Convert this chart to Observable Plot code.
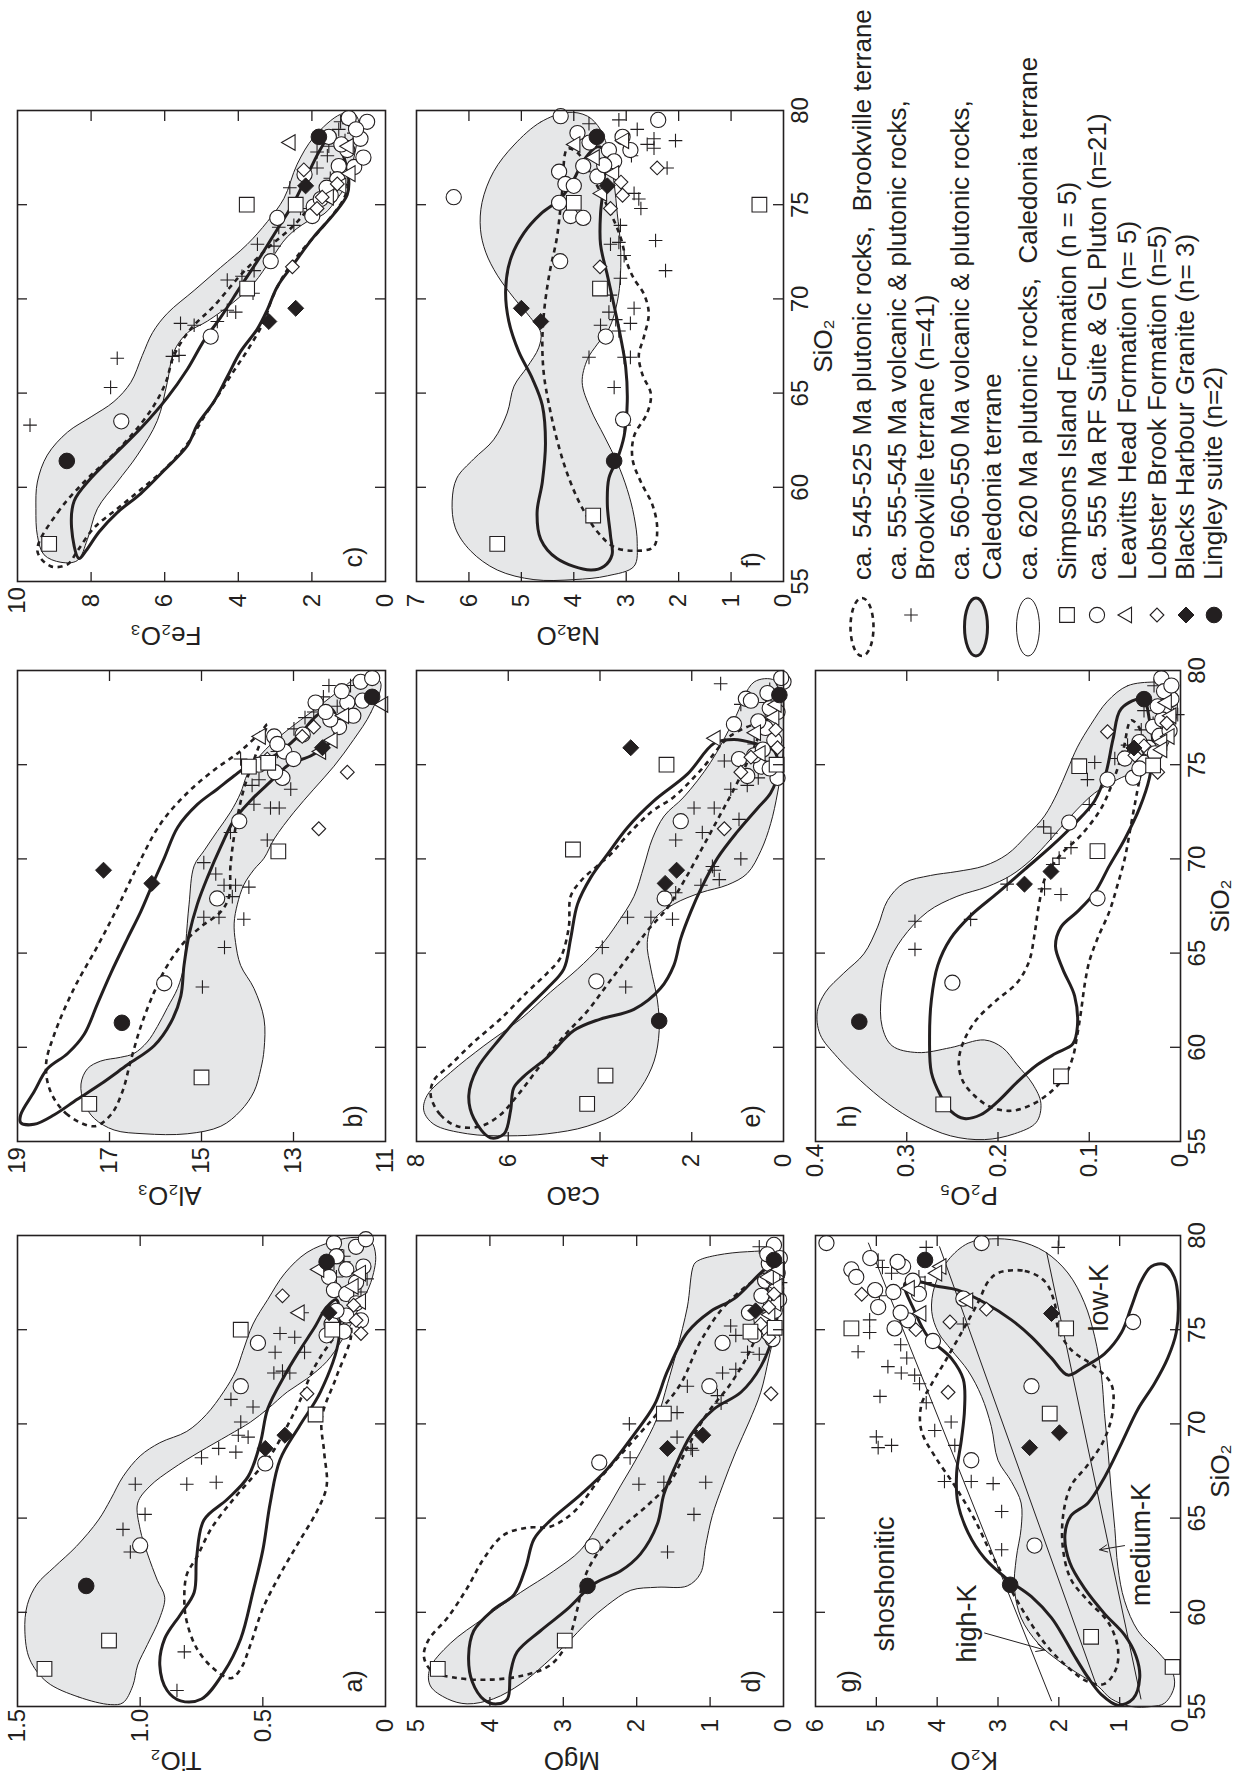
<!DOCTYPE html>
<html><head><meta charset="utf-8">
<script src="https://cdn.jsdelivr.net/npm/d3@7"></script>
<script src="https://cdn.jsdelivr.net/npm/@observablehq/plot@0.6"></script>
<style>
html,body{margin:0;padding:0;background:#fff;width:1245px;height:1788px;overflow:hidden;}
#fig{position:absolute;left:0;top:0;width:1788px;height:1245px;transform-origin:0 0;transform:translate(0px,1788px) rotate(-90deg);}
.panel{position:absolute;}
.panel svg{overflow:visible;}
</style></head><body><div id="fig"></div>
<script>
// ---------------- DATA (x = SiO2 wt%, y = oxide wt%) ----------------
const siTicks = [55,60,65,70,75,80];

// a) TiO2
const a_gray = [[55.1,1.12],[55.5,1.25],[56.3,1.38],[57.5,1.45],[59.0,1.47],[60.4,1.46],[61.5,1.42],[62.4,1.35],[63.5,1.26],[64.9,1.17],[66.0,1.12],[67.2,1.07],[68.3,1.0],[69.0,0.92],[69.6,0.81],[70.5,0.73],[71.7,0.66],[72.8,0.61],[73.9,0.58],[75.3,0.54],[76.6,0.48],[78.0,0.41],[79.1,0.32],[79.7,0.21],[79.9,0.12],[79.7,0.06],[78.9,0.04],[77.5,0.06],[76.4,0.10],[75.3,0.14],[74.4,0.18],[73.3,0.24],[72.4,0.32],[71.7,0.40],[70.8,0.48],[70.1,0.55],[69.4,0.64],[68.5,0.76],[67.6,0.87],[66.7,0.96],[65.8,1.01],[64.4,1.0],[63.1,0.97],[61.7,0.93],[60.8,0.90],[59.7,0.92],[58.3,0.97],[57.2,1.01],[56.1,1.03],[55.2,1.07]];
const a_solid = [[74.5,0.19],[71.7,0.265],[69.9,0.35],[68.1,0.43],[65.8,0.47],[63.3,0.50],[61.1,0.54],[58.6,0.59],[56.8,0.66],[55.4,0.75],[55.3,0.835],[55.85,0.89],[57.2,0.92],[58.6,0.90],[59.9,0.835],[61.05,0.78],[62.9,0.77],[64.9,0.74],[66.0,0.645],[67.2,0.56],[69.0,0.51],[70.8,0.48],[72.6,0.41],[73.9,0.35],[75.1,0.29],[76.2,0.24],[76.6,0.2]];
const a_dash = [[75.5,0.15],[74.7,0.14],[72.5,0.2],[70.3,0.26],[68.5,0.25],[66.7,0.24],[65.35,0.28],[63.8,0.35],[62.0,0.43],[60.2,0.50],[58.3,0.55],[57.0,0.59],[56.5,0.63],[57.0,0.70],[58.1,0.77],[59.5,0.81],[60.6,0.82],[62.0,0.81],[62.9,0.77],[64.45,0.71],[66.0,0.62],[67.2,0.54],[68.3,0.47],[69.9,0.40],[71.2,0.35],[73.0,0.29],[74.4,0.22]];
const a_plus = [[55.85,0.85],[57.9,0.82],[63.2,1.04],[64.4,1.07],[65.2,0.98],[66.8,1.02],[66.8,0.81],[66.9,0.69],[68.2,0.75],[68.7,0.68],[68.5,0.61],[69.3,0.56],[69.4,0.6],[70.1,0.59],[71.3,0.63],[70.9,0.54],[72.7,0.455],[72.8,0.42],[72.7,0.39],[73.8,0.45],[73.8,0.33],[74.8,0.43],[74.6,0.37],[75.9,0.34],[79.25,0.2],[78.5,0.21],[78.6,0.17],[78.0,0.25],[77.8,0.2],[76.9,0.18],[77.7,0.075],[78.9,0.17],[77.0,0.1]];
const a_circle = [[63.55,1.0],[74.3,0.52],[72.0,0.59],[67.9,0.49],[74.7,0.24],[79.6,0.21],[79.4,0.12],[78.2,0.16],[77.8,0.23],[78.35,0.09],[77.1,0.21],[76.9,0.16],[75.3,0.22],[75.75,0.16],[76.4,0.12],[77.5,0.12],[76.0,0.2],[74.9,0.17],[78.9,0.2],[79.8,0.08],[75.5,0.1]];
const a_triangle = [[75.9,0.35],[78.2,0.27],[78.0,0.10],[76.5,0.10],[77.3,0.13]];
const a_diamond = [[76.8,0.42],[71.6,0.32],[75.5,0.12],[74.8,0.10],[76.3,0.13]];
const a_square = [[57.0,1.39],[58.5,1.127],[75.0,0.59],[70.5,0.285],[75.0,0.217]];
const a_fdiamond = [[68.7,0.49],[69.4,0.41],[75.9,0.23]];
const a_fcircle = [[61.4,1.22],[78.6,0.24]];

// b) Al2O3
const b_gray = [[79.39,11.11],[77.76,11.32],[76.34,11.69],[74.92,12.12],[73.7,12.56],[72.48,12.99],[71.06,13.42],[70.04,13.64],[69.43,13.86],[68.62,14.08],[67.6,14.22],[66.59,14.29],[65.57,14.26],[64.35,14.15],[63.13,13.86],[61.5,13.64],[59.88,13.64],[58.86,13.71],[57.64,13.86],[56.63,14.15],[55.81,14.58],[55.41,15.31],[55.41,16.25],[55.61,16.9],[56.22,17.33],[57.03,17.55],[58.05,17.62],[58.86,17.48],[59.27,17.19],[59.47,16.76],[59.67,16.47],[60.28,16.18],[61.1,15.96],[62.11,15.74],[63.13,15.52],[64.35,15.38],[65.57,15.34],[67.6,15.27],[69.63,15.16],[70.45,14.94],[71.46,14.66],[72.48,14.37],[73.5,14.15],[74.51,14.0],[75.53,13.71],[76.54,13.28],[77.36,12.85],[78.17,12.41],[78.98,11.98],[79.7,11.54]];
const b_solid = [[56.42,18.93],[57.64,18.64],[58.86,18.35],[59.67,17.91],[60.69,17.55],[62.32,17.26],[63.94,16.97],[65.77,16.61],[67.2,16.32],[68.62,16.07],[70.04,15.81],[71.67,15.52],[72.89,15.09],[73.7,14.66],[74.41,14.29],[74.92,14.0],[75.5,13.4],[76.5,12.9],[77.6,12.5],[78.0,12.2],[77.3,12.05],[76.2,12.2],[75.5,12.6],[75.0,13.1],[74.1,13.5],[73.1,13.93],[72.07,14.29],[70.65,14.58],[69.02,14.87],[67.6,15.09],[65.98,15.27],[64.35,15.38],[62.72,15.45],[61.3,15.67],[60.08,16.03],[59.07,16.61],[58.05,17.19],[57.24,17.7],[56.42,18.2],[55.91,18.64],[56.0,18.93]];
const b_dash = [[55.81,17.33],[56.42,17.91],[57.64,18.28],[59.07,18.38],[60.69,18.2],[63.13,17.77],[65.37,17.26],[67.4,16.83],[69.63,16.39],[71.87,15.89],[73.5,15.31],[74.71,14.73],[75.73,14.15],[76.75,13.71],[77.15,13.57],[75.73,13.79],[73.7,14.08],[71.67,14.26],[69.63,14.37],[68.0,14.4],[67.2,14.58],[66.38,15.02],[65.57,15.38],[64.35,15.74],[62.93,16.03],[61.1,16.32],[59.27,16.54],[57.64,16.72],[56.42,16.97]];
const b_plus = [[63.2,14.98],[65.3,14.5],[66.9,14.95],[66.9,14.62],[66.8,14.08],[68.0,14.33],[69.2,14.69],[69.8,14.95],[68.6,14.51],[68.6,14.26],[68.5,13.97],[71.4,14.37],[72.9,13.86],[72.7,13.5],[72.7,13.31],[71.0,13.57],[73.9,13.9],[73.7,13.06],[75.7,13.35],[76.9,12.99],[77.8,12.56],[78.1,12.45],[79.2,12.23],[79.2,11.76],[78.1,12.05],[75.3,14.15],[74.2,13.75],[77.5,12.75],[78.6,12.35]];
const b_circle = [[63.4,15.81],[67.9,14.66],[72.0,14.18],[74.3,13.24],[76.5,13.42],[75.7,13.2],[77.0,12.01],[78.3,12.52],[78.3,11.83],[79.4,11.54],[79.6,11.29],[78.4,11.5],[77.4,12.2],[76.6,12.8],[75.3,13.0],[77.8,12.3],[76.1,13.35],[78.9,11.95],[77.6,11.7],[75.0,13.75],[74.6,13.4]];
const b_triangle = [[76.5,13.71],[78.2,11.05],[75.7,12.4],[76.3,12.15],[77.6,11.9]];
const b_diamond = [[74.6,11.83],[71.6,12.45],[75.3,13.57],[76.5,12.81],[77.0,12.56]];
const b_square = [[57.0,17.44],[58.4,15.0],[70.4,13.33],[74.9,13.97],[75.1,13.55]];
const b_fdiamond = [[69.4,17.13],[68.7,16.08],[75.9,12.37]];
const b_fcircle = [[61.3,16.73],[78.6,11.29]];

// c) Fe2O3
const c_gray = [[79.8,1.22],[78.58,1.95],[77.15,2.4],[75.33,2.76],[74.1,3.21],[72.89,3.76],[71.67,4.48],[70.45,5.2],[69.23,5.93],[68.21,6.33],[66.99,6.61],[65.57,6.92],[64.55,7.38],[63.74,8.0],[62.93,8.64],[61.71,9.19],[60.28,9.46],[58.86,9.5],[57.44,9.46],[56.42,9.28],[56.02,8.82],[56.12,8.37],[57.24,8.1],[58.86,7.83],[60.28,7.29],[61.71,6.74],[63.54,6.2],[65.57,5.93],[67.2,5.75],[68.21,5.38],[68.82,4.84],[69.84,4.12],[70.85,3.57],[72.07,3.12],[73.29,2.67],[74.1,2.13],[74.51,1.67],[75.33,1.31],[76.14,1.04],[77.15,0.9],[78.37,0.77],[79.39,0.72],[79.84,0.86]];
const c_solid = [[56.22,8.33],[57.85,8.53],[59.27,8.46],[60.49,8.0],[61.71,7.38],[63.13,6.65],[64.76,5.93],[66.28,5.38],[67.8,4.93],[69.02,4.48],[70.65,3.94],[72.28,3.39],[73.7,2.94],[75.12,2.49],[76.54,2.13],[77.97,1.76],[78.68,1.49],[77.97,1.22],[76.34,1.0],[75.53,1.04],[74.51,1.4],[73.29,1.95],[71.87,2.49],[70.65,2.94],[69.43,3.21],[68.41,3.48],[67.2,3.94],[65.87,4.3],[64.55,4.66],[63.33,5.11],[62.22,5.38],[60.89,6.02],[59.67,6.65],[58.66,7.29],[57.64,7.78],[56.63,8.14]];
const c_dash = [[56.63,9.46],[58.66,8.91],[60.28,8.19],[61.61,7.47],[62.93,6.83],[64.35,6.29],[65.57,5.97],[66.99,5.75],[68.41,5.29],[69.63,4.66],[71.26,3.94],[72.68,3.21],[73.9,2.49],[74.92,2.04],[75.93,1.58],[76.54,1.31],[76.14,1.04],[75.33,1.13],[73.7,1.76],[72.48,2.31],[71.26,2.76],[70.04,3.08],[68.82,3.3],[67.4,3.71],[66.18,4.12],[64.96,4.52],[63.74,4.93],[62.32,5.38],[61.1,5.93],[59.88,6.65],[58.86,7.29],[57.85,7.92],[56.63,8.37],[55.91,8.64],[55.81,9.1]];
const c_plus = [[63.3,9.66],[66.85,7.29],[65.3,7.47],[66.95,5.79],[67.0,5.61],[68.7,5.57],[68.6,5.2],[68.8,4.57],[69.4,4.3],[69.3,4.07],[71.0,4.3],[71.5,3.57],[72.8,3.03],[72.9,3.48],[73.8,2.9],[73.9,2.49],[74.8,2.31],[76.95,1.86],[77.8,1.86],[78.1,1.54],[79.0,1.27],[79.3,1.0],[79.4,1.22],[78.8,0.86],[77.6,1.58],[71.2,3.9],[70.3,3.6],[75.9,2.6],[76.4,1.5],[78.4,1.1]];
const c_circle = [[63.5,7.18],[68.0,4.75],[72.0,3.12],[74.3,2.94],[79.6,1.0],[79.4,0.5],[78.6,1.54],[78.5,0.68],[77.9,1.04],[77.05,1.27],[77.0,0.85],[78.2,1.2],[74.9,1.95],[74.4,1.99],[75.3,1.76],[75.5,1.49],[76.35,1.31],[75.9,1.6],[76.6,2.2],[79.0,0.8],[77.5,0.6]];
const c_triangle = [[78.3,2.58],[78.1,1.0],[76.65,0.95],[75.4,1.54],[76.0,1.2]];
const c_diamond = [[76.85,2.22],[76.1,1.31],[75.4,1.72],[71.7,2.53],[74.8,1.86]];
const c_square = [[57.0,9.14],[75.0,3.77],[70.55,3.76],[75.0,2.44]];
const c_fdiamond = [[76.0,2.17],[68.8,3.17],[69.5,2.44]];
const c_fcircle = [[61.4,8.66],[78.6,1.81]];

// d) MgO
const d_gray = [[78.46,1.22],[76.2,1.31],[73.94,1.45],[72.13,1.58],[70.33,1.72],[68.52,1.95],[66.71,2.22],[64.9,2.49],[63.32,2.76],[62.19,3.13],[61.06,3.58],[59.7,4.08],[58.35,4.54],[56.99,4.82],[56.09,4.81],[55.41,4.58],[55.14,4.31],[55.41,3.95],[56.2,3.58],[57.22,3.26],[58.35,2.95],[59.48,2.67],[60.38,2.4],[61.17,2.08],[61.33,1.72],[61.4,1.31],[62.07,1.13],[63.54,1.06],[65.13,0.97],[66.71,0.83],[68.52,0.65],[70.1,0.47],[71.68,0.31],[73.49,0.2],[75.3,0.1],[77.1,0.05],[78.69,0.03],[79.1,0.13],[79.14,0.49],[78.96,0.9],[78.69,1.15]];
const d_solid = [[78.35,0.17],[76.65,0.67],[75.98,0.99],[74.85,1.31],[72.81,1.58],[71.0,1.76],[69.42,2.04],[67.61,2.4],[66.26,2.76],[64.9,3.17],[63.88,3.4],[62.41,3.51],[60.94,3.67],[60.15,3.95],[59.02,4.22],[57.67,4.29],[56.31,4.24],[55.36,4.08],[55.14,3.9],[55.41,3.76],[56.76,3.72],[57.89,3.63],[59.02,3.31],[60.15,2.95],[61.51,2.58],[62.19,2.22],[63.09,1.95],[64.67,1.72],[66.26,1.63],[67.61,1.49],[69.42,1.26],[70.78,0.95],[71.68,0.58],[73.04,0.31],[74.85,0.13],[76.65,0.06],[77.78,0.08]];
const d_dash = [[77.78,0.26],[76.43,0.76],[74.39,1.13],[72.13,1.4],[70.55,1.72],[68.97,2.08],[67.16,2.49],[65.35,2.85],[64.56,3.17],[64.49,3.49],[64.11,3.81],[62.87,4.08],[61.28,4.31],[59.7,4.58],[58.57,4.83],[57.67,4.9],[56.88,4.79],[56.54,4.49],[56.42,4.04],[56.65,3.54],[57.22,3.17],[58.35,2.95],[60.15,2.81],[61.74,2.72],[63.09,2.54],[64.45,2.22],[65.69,1.85],[66.93,1.54],[68.74,1.31],[70.55,1.04],[72.13,0.72],[73.94,0.45],[75.98,0.26]];
const d_plus = [[63.2,1.58],[65.2,1.22],[66.9,1.06],[66.9,1.63],[66.8,1.97],[68.2,2.09],[70.0,2.1],[69.3,1.45],[68.7,1.26],[68.6,1.24],[71.1,0.85],[72.0,1.31],[72.7,0.83],[72.9,0.65],[73.8,0.49],[73.7,0.33],[75.2,0.72],[74.7,0.65],[79.4,0.33],[78.6,0.15],[77.9,0.22],[76.5,0.25],[78.2,0.1],[77.5,0.04],[70.6,1.45],[71.5,0.9]];
const d_circle = [[67.95,2.51],[63.5,2.6],[72.0,1.01],[74.3,0.83],[75.9,0.47],[76.3,0.17],[79.5,0.13],[78.5,0.2],[77.6,0.25],[77.2,0.1],[78.0,0.08],[76.8,0.3],[75.5,0.3],[74.7,0.4],[78.8,0.05],[77.8,0.15],[76.0,0.12],[75.0,0.2],[79.0,0.22],[76.6,0.06],[74.5,0.15]];
const d_triangle = [[77.3,0.08],[77.8,0.2],[76.4,0.1],[75.8,0.18],[78.2,0.05]];
const d_diamond = [[71.6,0.17],[75.3,0.31],[74.6,0.2],[76.9,0.13],[76.2,0.2]];
const d_square = [[57.0,4.71],[58.5,2.98],[70.55,1.63],[74.9,0.45],[75.1,0.12]];
const d_fdiamond = [[68.7,1.58],[69.4,1.1],[76.0,0.38]];
const d_fcircle = [[61.4,2.67],[78.7,0.13]];

// e) CaO
const e_gray = [[79.39,0.64],[77.36,1.08],[75.12,1.59],[73.29,2.17],[72.28,2.6],[71.06,2.86],[69.63,3.04],[68.01,3.26],[66.59,3.62],[65.37,3.99],[64.15,4.49],[62.93,5.08],[61.5,5.73],[60.08,6.53],[58.66,7.26],[57.44,7.77],[56.63,7.84],[55.91,7.62],[55.41,6.89],[55.3,6.02],[55.41,5.15],[55.81,4.28],[56.63,3.55],[57.85,3.11],[59.27,2.82],[60.89,2.71],[62.52,2.75],[64.15,2.89],[65.57,2.97],[66.79,2.82],[67.6,2.39],[68.21,1.8],[68.62,1.22],[69.23,0.79],[70.45,0.49],[71.87,0.28],[73.5,0.13],[75.33,0.02],[77.15,0.0],[78.78,0.02],[79.49,0.2]];
const e_solid = [[76.14,1.51],[74.51,2.09],[73.09,2.82],[71.67,3.4],[70.24,3.84],[69.02,4.2],[67.6,4.49],[65.77,4.64],[64.15,4.79],[63.13,5.15],[61.91,5.66],[60.49,6.17],[58.86,6.68],[57.44,6.86],[56.22,6.75],[55.2,6.39],[55.41,6.09],[56.63,5.95],[57.85,5.88],[58.46,5.66],[59.47,5.15],[60.89,4.57],[61.5,3.99],[62.01,3.26],[63.13,2.68],[64.35,2.39],[65.77,2.24],[67.2,2.02],[68.41,1.8],[70.04,1.44],[71.46,1.0],[72.68,0.57],[73.5,0.28],[74.51,0.13],[75.73,0.2],[76.14,0.64],[76.34,1.08]];
const e_dash = [[57.44,7.69],[56.42,7.48],[55.81,7.11],[55.81,6.6],[56.42,6.17],[57.44,5.8],[59.07,5.29],[60.59,4.79],[61.91,4.28],[63.33,3.84],[64.76,3.4],[66.18,2.97],[67.4,2.53],[68.82,2.17],[70.45,1.8],[72.07,1.44],[73.7,1.08],[75.12,0.79],[76.34,0.57],[77.15,0.49],[76.54,1.15],[74.72,1.8],[73.29,2.39],[72.48,2.89],[71.26,3.4],[70.24,3.77],[69.63,4.06],[68.82,4.42],[68.01,4.64],[66.38,4.68],[64.76,4.86],[63.94,5.15],[62.93,5.59],[61.5,6.17],[60.28,6.75],[59.07,7.26],[58.25,7.62]];
const e_plus = [[79.3,1.37],[78.2,0.93],[78.3,0.39],[77.8,0.28],[76.1,0.64],[75.2,1.29],[73.7,1.15],[73.9,0.79],[72.7,1.95],[72.7,1.51],[72.1,0.97],[71.4,1.77],[71.0,2.35],[70.0,0.93],[69.4,1.51],[68.6,1.8],[68.2,2.35],[66.9,3.4],[66.9,2.89],[66.8,2.42],[65.3,3.95],[63.2,3.44],[69.6,1.55],[68.9,1.4],[74.3,0.55],[79.0,0.3],[78.6,0.15],[77.4,0.4]];
const e_circle = [[63.5,4.08],[72.0,2.24],[67.9,2.59],[77.15,1.08],[78.5,0.82],[79.4,0.0],[75.3,0.97],[74.9,0.49],[74.3,0.13],[74.4,0.79],[75.5,0.64],[76.95,0.39],[77.8,0.13],[78.4,0.71],[79.6,0.05],[78.0,0.3],[76.3,0.2],[75.8,0.45],[77.3,0.55],[74.8,0.3],[78.8,0.35]];
const e_triangle = [[76.4,1.48],[75.6,0.5],[77.5,0.2],[76.7,0.6],[78.2,0.15]];
const e_diamond = [[71.6,1.29],[76.85,0.17],[75.9,0.13],[75.4,0.71],[74.6,0.93]];
const e_square = [[57.0,4.28],[58.5,3.88],[70.5,4.59],[75.0,2.55],[75.0,0.15]];
const e_fdiamond = [[75.9,3.33],[69.4,2.33],[68.7,2.58]];
const e_fcircle = [[61.4,2.71],[78.7,0.09]];

// f) Na2O
const f_gray = [[79.9,4.12],[79.39,4.63],[78.17,5.14],[76.75,5.53],[75.12,5.75],[73.7,5.78],[72.48,5.68],[71.26,5.46],[70.04,5.14],[69.02,4.83],[68.21,4.63],[67.4,4.67],[66.38,4.89],[65.37,5.14],[63.94,5.27],[62.52,5.53],[61.5,5.91],[60.49,6.23],[59.27,6.32],[57.85,6.26],[56.63,5.97],[55.61,5.46],[55.1,4.76],[55.1,4.0],[55.3,3.36],[55.81,2.85],[57.03,2.79],[58.46,2.85],[59.88,2.98],[61.3,3.17],[62.72,3.42],[64.15,3.68],[65.57,3.84],[66.79,3.74],[67.6,3.55],[68.41,3.33],[69.84,3.17],[71.26,3.11],[72.89,3.11],[74.51,3.17],[76.14,3.23],[77.76,3.33],[78.98,3.49],[79.7,3.74]];
const f_solid = [[55.61,3.68],[56.22,4.32],[57.24,4.63],[58.66,4.7],[60.28,4.6],[62.32,4.54],[64.35,4.6],[65.77,4.79],[67.2,5.05],[68.82,5.24],[70.45,5.3],[72.07,5.21],[73.5,4.95],[74.51,4.63],[75.33,4.25],[76.34,4.0],[77.36,3.81],[78.07,3.55],[77.87,3.42],[76.34,3.42],[74.51,3.49],[72.89,3.49],[71.26,3.36],[69.63,3.23],[68.01,3.11],[66.38,3.01],[64.55,2.98],[62.72,3.04],[61.5,3.17],[60.49,3.33],[59.07,3.36],[57.44,3.3],[56.42,3.27],[55.81,3.42]];
const f_dash = [[77.97,4.12],[75.73,4.22],[73.29,4.32],[71.26,4.47],[69.23,4.57],[67.6,4.6],[65.98,4.57],[64.35,4.47],[62.52,4.32],[60.69,4.12],[59.07,3.87],[57.64,3.55],[56.83,3.23],[56.63,2.85],[56.83,2.48],[57.85,2.41],[59.07,2.5],[60.28,2.72],[61.5,2.88],[62.72,2.85],[63.94,2.6],[64.96,2.53],[65.98,2.69],[66.99,2.76],[68.01,2.66],[69.23,2.57],[70.24,2.66],[71.06,2.85],[71.87,2.98],[73.29,3.11],[74.92,3.36],[76.95,3.74],[77.76,3.93]];
const f_plus = [[79.3,3.71],[79.5,3.14],[79.0,2.79],[78.5,2.47],[78.4,2.06],[78.0,2.47],[76.95,2.22],[75.6,2.85],[75.3,2.76],[74.8,2.72],[73.9,3.11],[73.0,3.14],[72.9,3.3],[72.3,3.04],[73.1,2.44],[71.5,2.25],[71.1,3.11],[70.2,3.3],[69.5,2.85],[69.3,3.33],[68.9,3.2],[68.7,2.92],[68.6,3.49],[68.3,3.14],[66.9,3.71],[66.9,3.04],[66.9,2.92],[65.3,3.23],[63.3,3.04],[77.6,2.9],[78.2,2.6]];
const f_circle = [[75.4,6.29],[79.7,4.25],[78.8,3.93],[77.05,3.82],[76.75,4.28],[76.1,4.16],[76.0,4.0],[75.1,4.28],[74.4,4.06],[74.3,3.82],[72.0,4.26],[68.0,3.39],[63.6,3.06],[79.5,2.39],[77.9,3.33],[77.3,3.23],[76.5,3.55],[77.1,3.42],[77.9,2.92],[78.6,3.07],[78.3,3.7]];
const f_triangle = [[78.2,3.97],[75.6,3.46],[76.65,3.23],[78.4,3.04],[77.5,3.6]];
const f_diamond = [[76.95,2.41],[71.7,3.5],[75.5,3.07],[74.8,3.3],[76.2,3.1]];
const f_square = [[57.0,5.46],[58.5,3.63],[70.55,3.5],[75.1,4.0],[75.0,0.46]];
const f_fdiamond = [[69.5,5.0],[68.8,4.63],[76.0,3.36]];
const f_fcircle = [[61.4,3.23],[78.6,3.56]];

// g) K2O
const g_gray = [[55.18,0.26],[56.09,0.1],[56.99,0.15],[57.89,0.37],[59.02,0.7],[60.61,0.92],[62.41,1.03],[64.45,1.08],[66.48,1.14],[68.52,1.19],[70.55,1.25],[72.59,1.3],[74.62,1.41],[76.43,1.58],[78.01,1.85],[79.14,2.23],[79.71,2.67],[79.82,3.11],[79.59,3.49],[78.69,3.82],[77.33,4.04],[75.98,4.09],[74.85,3.98],[73.94,3.77],[72.81,3.49],[71.46,3.27],[69.87,3.11],[68.07,3.0],[66.94,2.78],[65.8,2.62],[64.45,2.62],[62.87,2.7],[61.28,2.73],[59.7,2.62],[58.35,2.34],[57.44,2.01],[56.76,1.69],[56.09,1.36],[55.41,1.14],[55.0,0.81],[55.0,0.48]];
const g_solid = [[77.45,4.53],[75.98,4.37],[74.62,4.15],[73.49,3.77],[72.36,3.57],[70.78,3.55],[69.2,3.6],[67.39,3.68],[65.8,3.66],[64.22,3.49],[62.87,3.22],[61.74,2.84],[60.83,2.45],[59.7,2.12],[58.57,1.9],[57.67,1.74],[56.54,1.52],[55.63,1.3],[55.07,1.03],[55.41,0.78],[56.54,0.67],[57.67,0.73],[58.8,0.92],[59.93,1.25],[61.28,1.58],[62.64,1.82],[64.11,1.9],[65.13,1.8],[65.8,1.52],[67.16,1.25],[68.97,0.97],[70.78,0.7],[72.13,0.43],[73.49,0.21],[74.85,0.07],[76.65,0.04],[77.78,0.1],[78.46,0.26],[78.35,0.48],[77.56,0.65],[76.2,0.81],[74.85,0.97],[73.72,1.25],[73.04,1.58],[72.59,1.85],[73.49,2.12],[74.62,2.45],[75.52,2.78],[76.43,3.22],[77.1,3.66],[77.33,4.04],[77.56,4.31]];
const g_dash = [[78.01,3.0],[78.12,2.56],[77.56,2.23],[76.43,2.07],[75.07,2.01],[73.94,1.8],[73.04,1.41],[72.13,1.14],[70.78,1.11],[69.2,1.25],[67.84,1.52],[66.71,1.8],[65.13,1.93],[63.32,1.93],[61.74,1.8],[60.61,1.52],[59.48,1.19],[58.12,1.03],[56.99,1.06],[56.2,1.25],[56.31,1.52],[57.22,1.9],[58.35,2.23],[59.93,2.56],[61.51,2.84],[63.09,3.11],[64.9,3.38],[66.71,3.71],[68.29,4.04],[69.65,4.26],[71.0,4.26],[72.13,4.09],[73.26,3.88],[74.85,3.6],[76.43,3.33],[77.56,3.16]];
const g_lines = [[[55.4,0.65],[79.1,2.2]],[[56.1,1.38],[79.4,3.96]],[[55.3,2.12],[79.6,5.13]]];
const g_plus = [[73.83,5.3],[75.52,5.11],[74.85,5.11],[73.04,4.81],[72.7,4.59],[72.59,4.37],[72.13,4.29],[71.46,4.94],[71.12,4.18],[69.65,4.04],[70.1,3.77],[68.86,3.71],[69.31,5.0],[68.74,4.97],[68.86,4.75],[66.94,3.88],[66.94,3.44],[66.83,3.08],[65.35,2.94],[63.32,2.94],[79.37,4.18],[78.69,4.97],[78.3,4.9],[78.0,4.75],[77.5,4.2],[75.3,3.57],[79.37,2.01],[76.8,4.95],[77.8,4.3],[73.5,4.5],[74.2,4.6]];
const g_circle = [[79.6,5.82],[79.6,3.27],[78.2,5.41],[77.8,5.33],[77.1,5.02],[78.35,4.56],[75.07,4.7],[75.5,4.48],[74.4,4.07],[76.65,3.57],[72.0,2.45],[68.07,3.44],[63.54,2.4],[75.41,0.78],[77.0,4.72],[76.2,4.97],[78.6,4.65],[77.6,4.4],[76.9,4.3],[75.9,4.6],[78.8,5.1]];
const g_triangle = [[75.86,4.26],[76.54,3.49],[78.35,3.93],[78.0,4.0],[77.2,4.45]];
const g_diamond = [[76.88,5.24],[75.41,3.79],[71.68,3.82],[76.09,3.19],[75.0,4.35]];
const g_square = [[57.1,0.13],[58.7,1.47],[70.55,2.15],[75.07,1.88],[75.07,5.41]];
const g_fdiamond = [[68.74,2.48],[69.53,1.99],[75.86,2.12]];
const g_fcircle = [[61.46,2.8],[78.7,4.2]];
const g_noteText = ["shoshonitic","high-K","medium-K","low-K"];
const g_noteSi = [61.5,59.4,63.6,76.7];
const g_noteK = [4.85,3.5,0.65,1.34];
const g_arrowFrom = [[58.9,3.22],[63.54,0.92]];
const g_arrowTo = [[58.0,2.23],[63.32,1.33]];

// h) P2O5
const h_gray = [[79.39,0.029],[79.19,0.058],[78.37,0.08],[77.15,0.098],[75.93,0.113],[74.72,0.124],[73.5,0.135],[72.28,0.149],[71.26,0.168],[70.24,0.19],[69.63,0.215],[69.33,0.245],[69.12,0.274],[68.72,0.303],[67.8,0.321],[66.38,0.332],[64.96,0.347],[63.94,0.369],[62.93,0.389],[61.91,0.398],[60.69,0.395],[59.47,0.376],[58.25,0.351],[57.03,0.321],[56.02,0.288],[55.3,0.252],[55.1,0.215],[55.41,0.182],[56.02,0.158],[57.03,0.153],[58.05,0.162],[59.07,0.179],[59.98,0.195],[60.39,0.215],[59.98,0.252],[59.72,0.288],[60.08,0.316],[61.1,0.327],[62.72,0.328],[64.35,0.321],[65.77,0.305],[67.2,0.277],[68.01,0.245],[68.52,0.212],[69.12,0.186],[69.94,0.164],[71.06,0.142],[72.28,0.12],[73.5,0.094],[74.31,0.065],[74.82,0.04],[75.73,0.018],[77.36,0.005],[78.78,0.005],[79.35,0.014]];
const h_solid = [[78.48,0.041],[77.97,0.065],[76.34,0.074],[74.51,0.082],[73.09,0.094],[71.87,0.116],[70.65,0.142],[69.43,0.171],[68.21,0.2],[66.99,0.23],[65.77,0.252],[64.35,0.266],[62.52,0.273],[60.49,0.275],[58.66,0.273],[57.44,0.263],[56.63,0.252],[56.22,0.237],[56.42,0.219],[57.13,0.2],[58.15,0.179],[59.07,0.157],[59.67,0.137],[60.18,0.118],[61.1,0.113],[62.72,0.116],[64.15,0.129],[65.37,0.137],[66.38,0.131],[67.2,0.113],[68.21,0.094],[69.63,0.078],[71.06,0.061],[72.68,0.045],[74.31,0.034],[75.93,0.03],[77.36,0.034]];
const h_dash = [[77.36,0.054],[75.73,0.063],[74.11,0.074],[72.68,0.087],[71.26,0.109],[70.24,0.131],[69.02,0.148],[67.6,0.155],[65.98,0.16],[64.55,0.166],[63.43,0.179],[62.52,0.201],[61.5,0.223],[60.39,0.237],[59.27,0.243],[58.25,0.239],[57.44,0.226],[56.83,0.208],[56.63,0.186],[56.93,0.164],[57.64,0.142],[58.46,0.127],[59.47,0.118],[60.69,0.113],[61.91,0.109],[63.33,0.105],[64.55,0.1],[65.77,0.091],[67.2,0.078],[68.62,0.069],[70.04,0.061],[71.87,0.054],[73.7,0.047],[75.33,0.041],[76.75,0.043]];
const h_plus = [[66.69,0.291],[66.79,0.23],[65.2,0.291],[68.66,0.19],[68.41,0.149],[68.11,0.131],[70.04,0.133],[71.36,0.142],[72.89,0.1],[74.21,0.102],[75.12,0.094],[75.33,0.072],[76.04,0.058],[76.85,0.043],[79.19,0.029],[77.87,0.04],[77.66,0.003],[71.7,0.15],[70.6,0.12],[69.7,0.14],[78.4,0.02],[77.2,0.03]];
const h_circle = [[63.43,0.25],[71.93,0.122],[67.91,0.091],[74.21,0.08],[75.33,0.061],[74.31,0.052],[77.01,0.03],[79.59,0.021],[78.48,0.01],[76.54,0.023],[75.9,0.035],[75.1,0.04],[77.8,0.015],[76.2,0.045],[78.9,0.018],[77.4,0.02],[76.8,0.012],[75.6,0.028],[74.8,0.045],[79.2,0.01],[78.1,0.025]];
const h_triangle = [[76.5,0.012],[76.2,0.02],[77.6,0.01],[75.8,0.02],[78.3,0.015]];
const h_diamond = [[76.75,0.08],[76.0,0.04],[75.5,0.05],[74.6,0.025],[77.2,0.015]];
const h_square = [[56.97,0.26],[58.46,0.131],[70.41,0.091],[74.92,0.111],[74.96,0.03]];
const h_fdiamond = [[68.66,0.171],[69.33,0.142],[75.89,0.051]];
const h_fcircle = [[61.36,0.352],[78.48,0.04]];

const legendLabels = [
  "ca. 545-525 Ma plutonic rocks,  Brookville terrane",
  "ca. 555-545 Ma volcanic & plutonic rocks,",
  "Brookville terrane (n=41)",
  "ca. 560-550 Ma volcanic & plutonic rocks,",
  "Caledonia terrane",
  "ca. 620 Ma plutonic rocks,  Caledonia terrane",
  "Simpsons Island Formation (n = 5)",
  "ca. 555 Ma RF Suite & GL Pluton (n=21)",
  "Leavitts Head Formation (n= 5)",
  "Lobster Brook Formation (n=5)",
  "Blacks Harbour Granite (n= 3)",
  "Lingley suite (n=2)"
];

// ---------------- STYLE / LAYOUT ----------------
const FONT = '"Liberation Sans", Arial, Helvetica, sans-serif';
const INK = "#231f20";
const GRAY = "#e6e7e8";
const plusSymbol = {draw(ctx, size) { const s = Math.sqrt(size) * 0.55; ctx.moveTo(-s, 0); ctx.lineTo(s, 0); ctx.moveTo(0, -s); ctx.lineTo(0, s); }};
const groupStyle = [
  {key: "plus", symbol: plusSymbol, r: 7, fill: "none", sw: 1.1},
  {key: "circle", symbol: "circle", r: 7.6, fill: "white", sw: 1.1},
  {key: "triangle", symbol: "triangle", r: 5.8, fill: "white", sw: 1.1},
  {key: "diamond", symbol: "diamond2", r: 6.2, fill: "white", sw: 1.1},
  {key: "square", symbol: "square", r: 8.3, fill: "white", sw: 1.1},
  {key: "fdiamond", symbol: "diamond2", r: 7.2, fill: INK, sw: 1},
  {key: "fcircle", symbol: "circle", r: 7.8, fill: INK, sw: 1}
];
const M = {left: 80, right: 12, top: 12, bottom: 64};
const FW = 471;
const fmt1 = d => d === 0 ? "0" : d.toFixed(1);
const panels = [
  {X: 81, Y: 17, H: 368, dom: [0, 1.5], yt: [0, 0.5, 1, 1.5], fmt: fmt1, title: "TiO₂", letter: "a)",
   gray: a_gray, solid: a_solid, dash: a_dash, pts: {plus: a_plus, circle: a_circle, triangle: a_triangle, diamond: a_diamond, square: a_square, fdiamond: a_fdiamond, fcircle: a_fcircle}},
  {X: 646, Y: 17, H: 368, dom: [11, 19], yt: [11, 13, 15, 17, 19], fmt: String, title: "Al₂O₃", letter: "b)",
   gray: b_gray, solid: b_solid, dash: b_dash, pts: {plus: b_plus, circle: b_circle, triangle: b_triangle, diamond: b_diamond, square: b_square, fdiamond: b_fdiamond, fcircle: b_fcircle}},
  {X: 1206, Y: 17, H: 368, dom: [0, 10], yt: [0, 2, 4, 6, 8, 10], fmt: String, title: "Fe₂O₃", letter: "c)",
   gray: c_gray, solid: c_solid, dash: c_dash, pts: {plus: c_plus, circle: c_circle, triangle: c_triangle, diamond: c_diamond, square: c_square, fdiamond: c_fdiamond, fcircle: c_fcircle}},
  {X: 81, Y: 416, H: 367, dom: [0, 5], yt: [0, 1, 2, 3, 4, 5], fmt: String, title: "MgO", letter: "d)",
   gray: d_gray, solid: d_solid, dash: d_dash, pts: {plus: d_plus, circle: d_circle, triangle: d_triangle, diamond: d_diamond, square: d_square, fdiamond: d_fdiamond, fcircle: d_fcircle}},
  {X: 646, Y: 416, H: 367, dom: [0, 8], yt: [0, 2, 4, 6, 8], fmt: String, title: "CaO", letter: "e)",
   gray: e_gray, solid: e_solid, dash: e_dash, pts: {plus: e_plus, circle: e_circle, triangle: e_triangle, diamond: e_diamond, square: e_square, fdiamond: e_fdiamond, fcircle: e_fcircle}},
  {X: 1206, Y: 416, H: 367, dom: [0, 7], yt: [0, 1, 2, 3, 4, 5, 6, 7], fmt: String, title: "Na₂O", letter: "f)", xaxis: true,
   gray: f_gray, solid: f_solid, dash: f_dash, pts: {plus: f_plus, circle: f_circle, triangle: f_triangle, diamond: f_diamond, square: f_square, fdiamond: f_fdiamond, fcircle: f_fcircle}},
  {X: 81, Y: 815, H: 365, dom: [0, 6], yt: [0, 1, 2, 3, 4, 5, 6], fmt: String, title: "K₂O", letter: "g)", xaxis: true, letterTop: true,
   gray: g_gray, solid: g_solid, dash: g_dash, lines: g_lines, notes: true, pts: {plus: g_plus, circle: g_circle, triangle: g_triangle, diamond: g_diamond, square: g_square, fdiamond: g_fdiamond, fcircle: g_fcircle}},
  {X: 646, Y: 815, H: 365, dom: [0, 0.4], yt: [0, 0.1, 0.2, 0.3, 0.4], fmt: fmt1, title: "P₂O₅", letter: "h)", xaxis: true, letterTop: true,
   gray: h_gray, solid: h_solid, dash: h_dash, pts: {plus: h_plus, circle: h_circle, triangle: h_triangle, diamond: h_diamond, square: h_square, fdiamond: h_fdiamond, fcircle: h_fcircle}}
];

const fig = document.getElementById("fig");
const X = d => d[0], Y = d => d[1];

for (const p of panels) {
  const [y0, y1] = p.dom;
  const ky = 10 / p.H * (y1 - y0), kx = 10 / FW * 25;
  const inner = (arr, lo, hi) => arr.filter(v => v > lo && v < hi);
  const xt = inner(siTicks, 55, 80), yti = inner(p.yt, y0, y1);
  const marks = [
    Plot.line(p.gray, {x: X, y: Y, curve: "catmull-rom-closed", fill: GRAY, stroke: INK, strokeWidth: 1})
  ];
  if (p.lines) for (const l of p.lines) marks.push(Plot.line(l, {x: X, y: Y, stroke: INK, strokeWidth: 1}));
  marks.push(Plot.line(p.dash, {x: X, y: Y, curve: "catmull-rom-closed", stroke: INK, strokeWidth: 2.6, strokeDasharray: "5,4.5", strokeLinecap: "butt"}));
  marks.push(Plot.line(p.solid, {x: X, y: Y, curve: "catmull-rom-closed", stroke: INK, strokeWidth: 3}));
  if (p.notes) {
    marks.push(Plot.arrow(g_arrowFrom.map((f, i) => ({f, t: g_arrowTo[i]})), {x1: d => d.f[0], y1: d => d.f[1], x2: d => d.t[0], y2: d => d.t[1], stroke: INK, strokeWidth: 1, headLength: 14, headAngle: 50}));
    marks.push(Plot.text(g_noteText, {x: (d, i) => g_noteSi[i], y: (d, i) => g_noteK[i], text: d => d, fontSize: 27, fill: INK}));
  }
  for (const g of groupStyle) {
    marks.push(Plot.dot(p.pts[g.key], {x: X, y: Y, symbol: g.symbol, r: g.r, fill: g.fill, stroke: INK, strokeWidth: g.sw}));
  }
  marks.push(
    Plot.ruleX(xt, {x: d => d, y1: y0, y2: y0 + ky, stroke: INK, strokeWidth: 1.3}),
    Plot.ruleX(xt, {x: d => d, y1: y1 - ky, y2: y1, stroke: INK, strokeWidth: 1.3}),
    Plot.ruleY(yti, {y: d => d, x1: 55, x2: 55 + kx, stroke: INK, strokeWidth: 1.3}),
    Plot.ruleY(yti, {y: d => d, x1: 80 - kx, x2: 80, stroke: INK, strokeWidth: 1.3}),
    Plot.frame({stroke: INK, strokeWidth: 1.6}),
    Plot.text(p.yt, {y: d => d, frameAnchor: "left", dx: -19, text: p.fmt, textAnchor: "middle", fontSize: 24, fill: INK}),
    Plot.text([p.title], {frameAnchor: "left", dx: -54, rotate: -90, text: d => d, fontSize: 26, fill: INK}),
    Plot.text([p.letter], p.letterTop
      ? {frameAnchor: "top-left", dx: 14, dy: 23, text: d => d, textAnchor: "start", fontSize: 25, fill: INK}
      : {frameAnchor: "bottom-left", dx: 14, dy: -24, text: d => d, textAnchor: "start", fontSize: 25, fill: INK})
  );
  if (p.xaxis) {
    marks.push(
      Plot.text(siTicks, {x: d => d, frameAnchor: "bottom", dy: 24, text: String, fontSize: 24, fill: INK}),
      Plot.text(["SiO₂"], {frameAnchor: "bottom", dy: 48, text: d => d, fontSize: 26, fill: INK})
    );
  }
  const chart = Plot.plot({
    width: FW + M.left + M.right,
    height: p.H + M.top + M.bottom,
    marginLeft: M.left, marginRight: M.right, marginTop: M.top, marginBottom: M.bottom,
    x: {domain: [55, 80], axis: null},
    y: {domain: p.dom, axis: null},
    style: {fontFamily: FONT, color: INK, background: "transparent", overflow: "visible"},
    marks
  });
  const div = document.createElement("div");
  div.className = "panel";
  div.style.left = (p.X - M.left) + "px";
  div.style.top = (p.Y - M.top) + "px";
  div.style.width = (FW + M.left + M.right) + "px";
  div.appendChild(chart);
  fig.appendChild(div);
}

// ---------------- LEGEND ----------------
const legY = [862, 897, 925, 960, 992, 1028, 1067, 1097, 1127, 1157, 1185, 1213];
const leg = d3.select(fig).append("svg")
  .attr("width", 1788).attr("height", 1245)
  .style("position", "absolute").style("left", "0px").style("top", "0px").style("overflow", "visible");
leg.selectAll("text.lab").data(legendLabels).join("text")
  .attr("class", "lab").attr("x", 1208).attr("y", (d, i) => legY[i])
  .attr("dominant-baseline", "central").attr("font-family", FONT).attr("font-size", 26)
  .attr("fill", INK).style("white-space", "pre").text(d => d);
leg.append("ellipse").attr("cx", 1161).attr("cy", 862).attr("rx", 29).attr("ry", 11.5)
  .attr("fill", "none").attr("stroke", INK).attr("stroke-width", 2.6).attr("stroke-dasharray", "5,4.5");
leg.append("ellipse").attr("cx", 1161).attr("cy", 976).attr("rx", 29).attr("ry", 11.5)
  .attr("fill", GRAY).attr("stroke", INK).attr("stroke-width", 3);
leg.append("ellipse").attr("cx", 1161).attr("cy", 1028).attr("rx", 29).attr("ry", 11.5)
  .attr("fill", "white").attr("stroke", INK).attr("stroke-width", 1);
const legSym = [
  {y: 911, key: "plus"}, {y: 1067, key: "square"}, {y: 1097, key: "circle"}, {y: 1127, key: "triangle"},
  {y: 1157, key: "diamond"}, {y: 1186, key: "fdiamond"}, {y: 1214, key: "fcircle"}
];
const symMap = {circle: d3.symbolCircle, square: d3.symbolSquare, triangle: d3.symbolTriangle, diamond2: d3.symbolDiamond2};
for (const s of legSym) {
  const g = groupStyle.find(q => q.key === s.key);
  const type = typeof g.symbol === "string" ? symMap[g.symbol] : g.symbol;
  leg.append("path").attr("transform", `translate(1173,${s.y})`)
    .attr("d", d3.symbol(type, Math.PI * g.r * g.r)())
    .attr("fill", g.fill).attr("stroke", INK).attr("stroke-width", g.sw);
}
</script></body></html>
